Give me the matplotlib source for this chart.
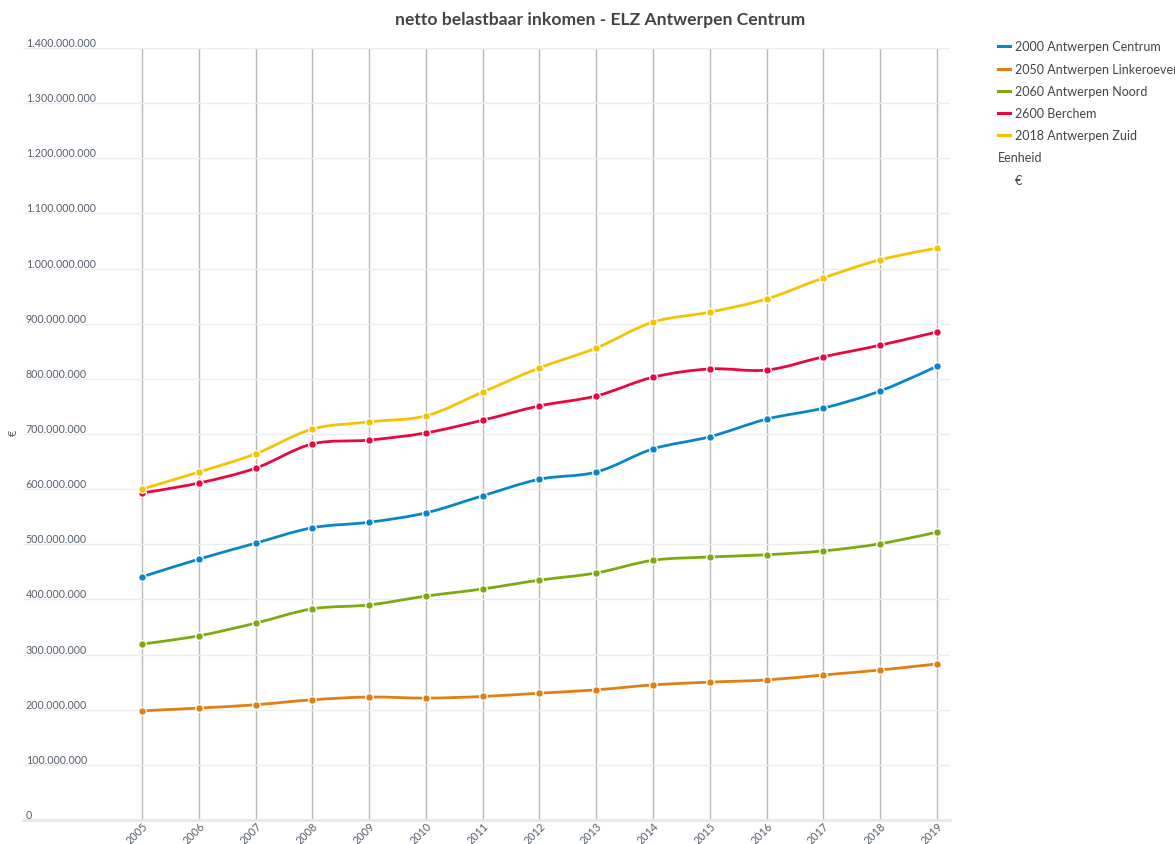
import numpy as np
import matplotlib
matplotlib.use('Agg')
import matplotlib.pyplot as plt
from matplotlib.path import Path
from matplotlib.patches import PathPatch
from matplotlib.lines import Line2D

plt.rcParams['font.family'] = ['Lato', 'DejaVu Sans']

# data (miljoen euro)
years = list(range(2005, 2020))
centrum = [441, 473, 502, 530, 540, 557, 588, 618, 631, 673, 695, 727, 747, 778, 823]
linkeroever = [198, 203, 209, 218, 223, 221, 224, 230, 236, 245, 250, 254, 263, 272, 283]
noord = [319, 334, 357, 383, 390, 406, 419, 435, 448, 471, 477, 481, 488, 501, 522]
berchem = [593, 611, 638, 682, 689, 702, 725, 751, 769, 803, 818, 816, 840, 861, 885]
zuid = [600, 631, 664, 709, 722, 733, 776, 820, 856, 903, 921, 945, 983, 1016, 1037]

series_names = ['2000 Antwerpen Centrum', '2050 Antwerpen Linkeroever', '2060 Antwerpen Noord',
                '2600 Berchem', '2018 Antwerpen Zuid']
series_vals = [centrum, linkeroever, noord, berchem, zuid]
colors = ['#0a86c8', '#e07f14', '#7fa811', '#e8083e', '#f5c400']

ytick_vals = [i * 100000000 for i in range(15)]
ytick_labels = [f"{v:,}".replace(',', '.') for v in ytick_vals]

W, H = 1175, 845
fig = plt.figure(figsize=(W / 100, H / 100), dpi=100)
ax = fig.add_axes([23 / W, 24 / H, 927 / W, 772 / H])

ax.set_xlim(2005 - 119 / 56.79, 2019 + 13 / 56.79)
ax.set_ylim(0, 1.4e9)

# px per unit, for the spline shape (plotly-like smoothing)
sx, sy = 56.79, 55.14 / 1e8


def spline_path(xs, ys, smooth=1.0):
    pts = np.column_stack([np.asarray(xs, float) * sx, np.asarray(ys, float) * sy])
    tang = []
    for i in range(1, len(pts) - 1):
        d1 = pts[i - 1] - pts[i]
        d2 = pts[i + 1] - pts[i]
        d1a = np.hypot(*d1) ** 0.5
        d2a = np.hypot(*d2) ** 0.5
        num = (d2a * d2a * d1 - d1a * d1a * d2) * smooth
        den1 = 3 * d2a * (d1a + d2a)
        den2 = 3 * d1a * (d1a + d2a)
        tang.append((pts[i] + num / den1, pts[i] - num / den2))
    verts = [pts[0], tang[0][0], pts[1]]
    codes = [Path.MOVETO, Path.CURVE3, Path.CURVE3]
    for i in range(1, len(pts) - 2):
        verts += [tang[i - 1][1], tang[i][0], pts[i + 1]]
        codes += [Path.CURVE4] * 3
    verts += [tang[-1][1], pts[-1]]
    codes += [Path.CURVE3, Path.CURVE3]
    verts = np.array(verts) / np.array([sx, sy])
    return Path(verts, codes)


for vals, col in zip(series_vals, colors):
    v = np.array(vals) * 1e6
    patch = PathPatch(spline_path(years, v), fill=False, edgecolor=col, lw=2.0,
                      capstyle='round', joinstyle='round', zorder=3)
    ax.add_patch(patch)
    ax.plot(years, v, 'o', color=col, ms=5.5, mec='white', mew=0.9, zorder=4)

# grid & axes
ax.set_xticks(years)
ax.set_xticklabels([str(y) for y in years], rotation=45, ha='right', va='top',
                   rotation_mode='anchor', fontsize=7.8, color='#555e6b')
ax.set_yticks(ytick_vals)
ax.set_yticklabels(ytick_labels, fontsize=7.7, color='#555e6b')
for lbl in ax.get_yticklabels():
    lbl.set_ha('left')
    lbl.set_va('bottom')
ax.tick_params(axis='y', length=0, pad=-2)
ax.tick_params(axis='x', length=0, pad=0)
ax.grid(axis='x', color='#b8b8b8', lw=1.0, zorder=1)
ax.grid(axis='y', color='#ededed', lw=1.0, zorder=0)
for s in ['top', 'right', 'left']:
    ax.spines[s].set_visible(False)
ax.spines['bottom'].set_color('#e8e8e8')
ax.spines['bottom'].set_linewidth(2)

fig.text(13 / W, 1 - 433 / H, '€', rotation=90, ha='center', va='center',
         fontsize=8, color='#555e6b')

fig.text(600 / W, 1 - 20 / H, 'netto belastbaar inkomen - ELZ Antwerpen Centrum',
         ha='center', va='center', fontsize=12.6, fontweight='bold', color='#444444')

# legend
row_y = [47, 70, 92, 114, 136]
for name, col, yy in zip(series_names, colors, row_y):
    fig.add_artist(Line2D([998 / W, 1010 / W], [1 - yy / H, 1 - yy / H], color=col, lw=2.2))
    fig.text(1015 / W, 1 - yy / H, name, ha='left', va='center', fontsize=9, color='#444444')
fig.text(998 / W, 1 - 158 / H, 'Eenheid', ha='left', va='center', fontsize=9, color='#444444')
fig.text(1015 / W, 1 - 181 / H, '€', ha='left', va='center', fontsize=9, color='#444444')

fig.savefig('out.png', dpi=100)
